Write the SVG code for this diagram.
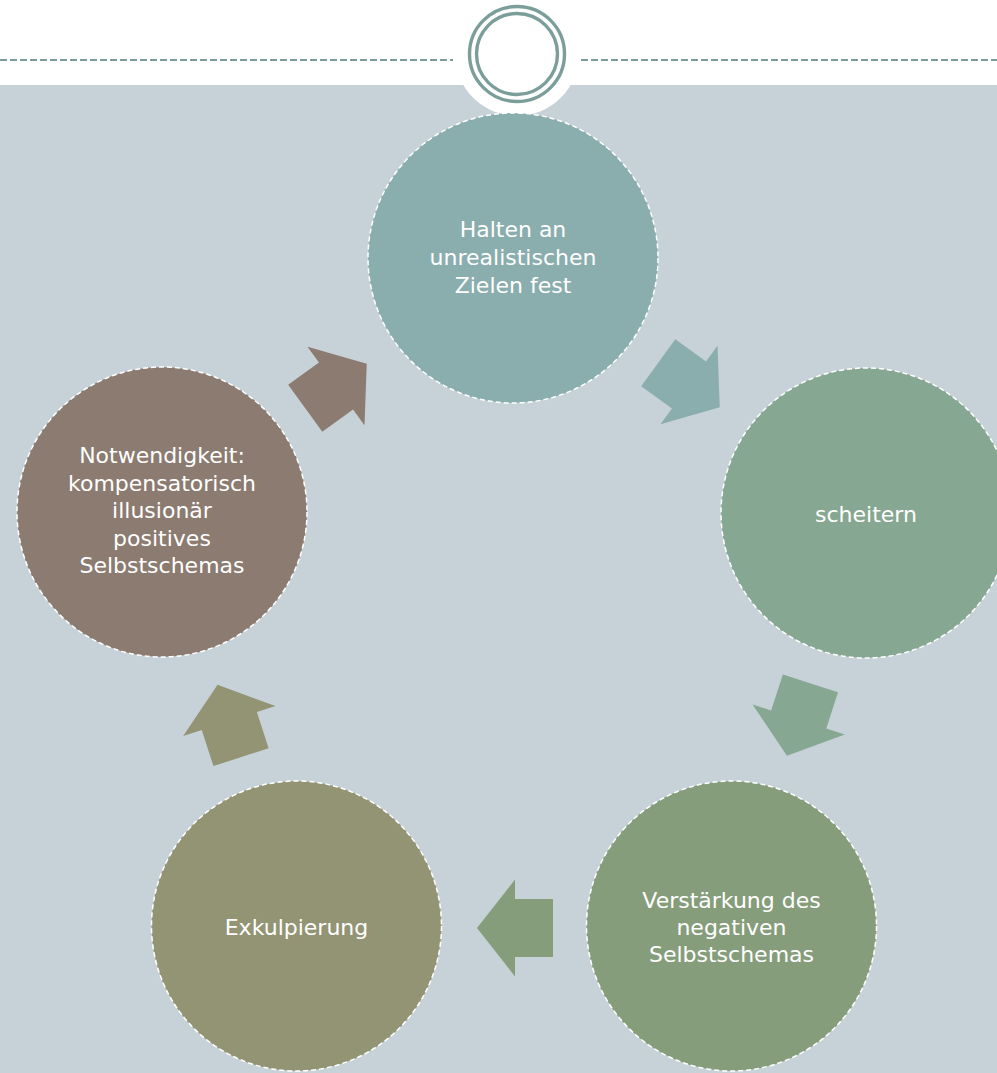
<svg xmlns="http://www.w3.org/2000/svg" width="997" height="1073" viewBox="0 0 997 1073">
  <style>
    .node circle { stroke: #ffffff; stroke-width: 1.5; stroke-dasharray: 5 3; }
    .node text { font-family: "DejaVu Sans", "Liberation Sans", sans-serif; font-size: 22px; fill: #ffffff; text-anchor: middle; }
    .rule { stroke: #7b9c9a; stroke-width: 2; stroke-dasharray: 7 3; fill: none; }
    .ring { stroke: #7b9e9b; stroke-width: 3.4; fill: none; }
  </style>
  <defs>
    <!-- block arrow pointing along +x, centred on the origin -->
    <path id="arrow" d="M-38,-29 L0,-29 L0,-48.5 L38,0 L0,48.5 L0,29 L-38,29 Z"/>
  </defs>

  <!-- page background -->
  <rect x="0" y="0" width="997" height="1073" fill="#ffffff"/>
  <rect x="0" y="85" width="997" height="988" fill="#c6d2d7"/>

  <!-- header rule with ornament -->
  <g id="header">
    <line class="rule" x1="0" y1="60" x2="453" y2="60"/>
    <line class="rule" x1="581" y1="60" x2="997" y2="60"/>
    <circle cx="517" cy="54" r="62" fill="#ffffff"/>
    <circle class="ring" cx="517" cy="54" r="47.5"/>
    <circle class="ring" cx="517" cy="54" r="40.5"/>
  </g>

  <!-- connectors -->
  <g id="connectors">
    <use href="#arrow" fill="#8aadad" transform="translate(689,385) rotate(36)"/>
    <use href="#arrow" fill="#86a791" transform="translate(798.7,719.5) rotate(108)"/>
    <use href="#arrow" fill="#869d7b" transform="translate(515,928) rotate(180)"/>
    <use href="#arrow" fill="#939474" transform="translate(229.3,721) rotate(252)"/>
    <use href="#arrow" fill="#8c7b70" transform="translate(336,386) rotate(324)"/>
  </g>

  <!-- nodes -->
  <g id="node-ziele" class="node">
    <circle cx="513" cy="258" r="145" fill="#8aadad"/>
    <text x="513" y="237">Halten an</text>
    <text x="513" y="265">unrealistischen</text>
    <text x="513" y="293">Zielen fest</text>
  </g>

  <g id="node-scheitern" class="node">
    <circle cx="866" cy="513" r="145" fill="#86a791"/>
    <text x="866" y="522">scheitern</text>
  </g>

  <g id="node-verstaerkung" class="node">
    <circle cx="731.5" cy="926" r="145" fill="#869d7b"/>
    <text x="731.5" y="908">Verstärkung des</text>
    <text x="731.5" y="935">negativen</text>
    <text x="731.5" y="962">Selbstschemas</text>
  </g>

  <g id="node-exkulpierung" class="node">
    <circle cx="296.5" cy="926" r="145" fill="#939474"/>
    <text x="296.5" y="935">Exkulpierung</text>
  </g>

  <g id="node-notwendigkeit" class="node">
    <circle cx="162" cy="512" r="145" fill="#8c7b70"/>
    <text x="162" y="463">Notwendigkeit:</text>
    <text x="162" y="490.5">kompensatorisch</text>
    <text x="162" y="518">illusionär</text>
    <text x="162" y="545.5">positives</text>
    <text x="162" y="573">Selbstschemas</text>
  </g>
</svg>
